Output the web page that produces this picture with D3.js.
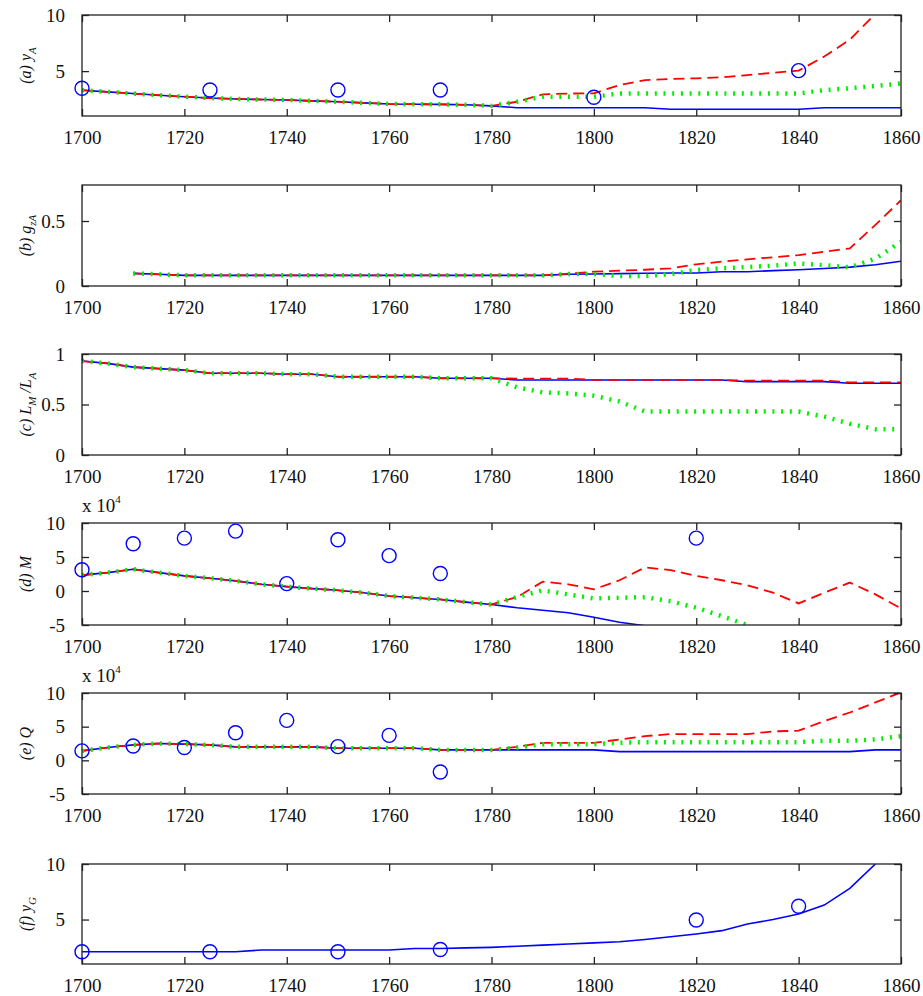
<!DOCTYPE html>
<html><head><meta charset="utf-8">
<script src="https://cdn.jsdelivr.net/npm/d3@7"></script>
<style>body{margin:0;background:#fff}</style>
</head><body><svg id="c" width="923" height="996"></svg>
<script>
// ---- data ----
const years = [1700,1705,1710,1715,1720,1725,1730,1735,1740,1745,1750,1755,1760,1765,1770,1775,1780,
  1785,1790,1795,1800,1805,1810,1815,1820,1825,1830,1835,1840,1845,1850,1855,1860];
const xTicks = [1700,1720,1740,1760,1780,1800,1820,1840,1860];

// (a) y_A
const aBase = [3.3,3.15,3.0,2.85,2.72,2.6,2.52,2.47,2.43,2.35,2.27,2.17,2.07,2.05,2.04,2.0,1.9];
const aBlue = aBase.concat([1.74,1.74,1.74,1.74,1.74,1.74,1.6,1.6,1.6,1.6,1.6,1.6,1.74,1.74,1.74,1.74]);
const aRed = aBase.concat([2.27,2.93,3.0,3.02,3.76,4.2,4.3,4.36,4.45,4.65,4.85,5.04,6.3,7.8,10.1,12.0]);
const aGreen = aBase.concat([2.27,2.72,2.72,2.72,3.0,3.0,3.0,3.0,3.0,3.0,3.0,3.0,3.3,3.47,3.67,3.9]);
const aObsYears = [1700,1725,1750,1770,1800,1840];
const aObs = [3.47,3.32,3.32,3.32,2.67,5.04];
const aTicks = [5,10];

// (b) g_zA
const bBase = [null,null,0.097,0.09,0.082,0.082,0.082,0.082,0.082,0.082,0.082,0.082,0.082,0.082,0.082,0.082,0.082];
const bBlue = bBase.concat([0.082,0.082,0.09,0.092,0.095,0.098,0.1,0.1,0.11,0.11,0.118,0.125,0.135,0.145,0.164,0.19]);
const bRed = bBase.concat([0.082,0.082,0.095,0.11,0.118,0.125,0.136,0.167,0.187,0.205,0.221,0.238,0.264,0.29,0.47,0.66]);
const bGreen = bBase.concat([0.082,0.082,0.092,0.092,0.077,0.077,0.092,0.123,0.136,0.146,0.156,0.174,0.16,0.144,0.21,0.34]);
const bTicks = [0,0.5];

// (c) L_M/L_A
const cBase = [0.93,0.907,0.87,0.855,0.84,0.81,0.81,0.81,0.80,0.80,0.775,0.775,0.775,0.775,0.76,0.76,0.76];
const cBlue = cBase.concat([0.743,0.743,0.743,0.743,0.743,0.743,0.743,0.743,0.743,0.726,0.726,0.726,0.726,0.71,0.71,0.71]);
const cRed = cBase.concat([0.756,0.756,0.756,0.743,0.743,0.743,0.743,0.743,0.743,0.736,0.736,0.736,0.736,0.72,0.72,0.72]);
const cGreen = cBase.concat([0.67,0.62,0.61,0.587,0.53,0.43,0.43,0.43,0.43,0.43,0.43,0.43,0.38,0.31,0.255,0.255]);
const cTicks = [0,0.5,1];

// (d) M  (x 10^4)
const dBase = [2.33,2.7,3.2,2.7,2.23,1.88,1.49,0.99,0.64,0.35,0.1,-0.25,-0.74,-0.99,-1.24,-1.63,-1.98];
const dBlue = dBase.concat([-2.47,-2.82,-3.2,-3.86,-4.6,-5.1,null,null,null,null,null,null,null,null,null,null]);
const dRed = dBase.concat([-0.89,1.38,0.99,0.25,1.58,3.47,3.07,2.23,1.58,0.84,-0.25,-1.83,-0.25,1.24,-0.5,-2.57]);
const dGreen = dBase.concat([-0.89,0.1,-0.5,-1.1,-1.0,-0.9,-1.5,-2.47,-3.7,-5.0,null,null,null,null,null,null]);
const dObsYears = [1700,1710,1720,1730,1740,1750,1760,1770,1820];
const dObs = [3.12,6.94,7.77,8.81,1.09,7.53,5.2,2.57,7.77];
const dTicks = [-5,0,5,10];

// (e) Q  (x 10^4)
const eBase = [1.4,1.9,2.3,2.5,2.4,2.3,2.0,2.0,2.0,2.0,1.8,1.8,1.8,1.8,1.55,1.55,1.55];
const eBlue = eBase.concat([1.55,1.55,1.55,1.55,1.3,1.3,1.3,1.3,1.3,1.3,1.3,1.3,1.3,1.3,1.55,1.55]);
const eRed = eBase.concat([2.0,2.6,2.6,2.6,3.1,3.6,3.9,3.9,3.9,3.9,4.3,4.4,5.83,7.1,8.6,10.1]);
const eGreen = eBase.concat([1.9,2.4,2.4,2.4,2.6,2.7,2.7,2.7,2.7,2.7,2.7,2.7,2.9,2.9,3.1,3.6]);
const eObsYears = [1700,1710,1720,1730,1740,1750,1760,1770];
const eObs = [1.4,2.13,1.9,4.1,5.94,2.03,3.7,-1.74];
const eTicks = [-5,0,5,10];

// (f) y_G
const fBlue = [2.1,2.1,2.1,2.1,2.1,2.1,2.1,2.26,2.26,2.26,2.26,2.26,2.26,2.4,2.4,2.45,2.5,
  2.6,2.7,2.8,2.9,3.0,3.2,3.45,3.7,4.0,4.6,5.0,5.5,6.3,7.8,10.0,null];
const fObsYears = [1700,1725,1750,1770,1820,1840];
const fObs = [2.1,2.1,2.1,2.3,4.96,6.2];
const fTicks = [5,10];

// ---- layout ----
const X0 = 82, X1 = 901;
const panels = [
  {id:"a", lab:[["(a) y",0],["A",1]], top:15, bot:116, dom:[1,10], ticks:aTicks, blue:aBlue, red:aRed, green:aGreen, oy:aObsYears, ov:aObs},
  {id:"b", lab:[["(b) g",0],["zA",1]], top:185, bot:286, dom:[0,0.777], ticks:bTicks, blue:bBlue, red:bRed, green:bGreen},
  {id:"c", lab:[["(c) L",0],["M",1],[" /L",0],["A",1]], top:354, bot:455, dom:[0,1], ticks:cTicks, blue:cBlue, red:cRed, green:cGreen},
  {id:"d", lab:[["(d) M",0]], top:523, bot:625, dom:[-5,10], ticks:dTicks, blue:dBlue, red:dRed, green:dGreen, oy:dObsYears, ov:dObs, exp:true},
  {id:"e", lab:[["(e) Q",0]], top:693, bot:794, dom:[-5,10], ticks:eTicks, blue:eBlue, red:eRed, green:eGreen, oy:eObsYears, ov:eObs, exp:true},
  {id:"f", lab:[["(f) y",0],["G",1]], top:864, bot:964, dom:[1,10], ticks:fTicks, blue:fBlue, oy:fObsYears, ov:fObs}
];

const svg = d3.select("#c");
const x = d3.scaleLinear().domain([1700,1860]).range([X0,X1]);
const FONT = "'Liberation Serif','Times New Roman',serif";
const defs = svg.append("defs");

panels.forEach(p => {
  const y = d3.scaleLinear().domain(p.dom).range([p.bot,p.top]);
  const g = svg.append("g");
  defs.append("clipPath").attr("id","clip"+p.id).append("rect")
    .attr("x",X0).attr("y",p.top).attr("width",X1-X0).attr("height",p.bot-p.top);
  const plot = g.append("g").attr("clip-path","url(#clip"+p.id+")");
  const line = d3.line().defined(d=>d[1]!=null).x(d=>x(d[0])).y(d=>y(d[1]));
  const zip = arr => years.map((yr,i)=>[yr,arr[i]]);
  if (p.blue) plot.append("path").attr("d",line(zip(p.blue))).attr("fill","none")
    .attr("stroke","#0000ff").attr("stroke-width",1.6);
  if (p.red) plot.append("path").attr("d",line(zip(p.red))).attr("fill","none")
    .attr("stroke","#ff0000").attr("stroke-width",1.8).attr("stroke-dasharray","11,6");
  if (p.green) plot.append("path").attr("d",line(zip(p.green))).attr("fill","none")
    .attr("stroke","#00ee00").attr("stroke-width",4.5).attr("stroke-dasharray","2,6.7");

  // frame
  g.append("rect").attr("x",X0).attr("y",p.top).attr("width",X1-X0).attr("height",p.bot-p.top)
    .attr("fill","none").attr("stroke","#222").attr("stroke-width",1.3);

  // axes with inward ticks
  const axB = d3.axisBottom(x).tickValues(xTicks).tickFormat(d3.format("d")).tickSizeInner(-7).tickSizeOuter(0).tickPadding(15);
  const axT = d3.axisTop(x).tickValues(xTicks).tickFormat("").tickSizeInner(-7).tickSizeOuter(0);
  const axL = d3.axisLeft(y).tickValues(p.ticks).tickFormat(d=>String(d)).tickSizeInner(-7).tickSizeOuter(0).tickPadding(17);
  const axR = d3.axisRight(y).tickValues(p.ticks).tickFormat("").tickSizeInner(-7).tickSizeOuter(0);
  [[axB,`translate(0,${p.bot})`],[axT,`translate(0,${p.top})`],[axL,`translate(${X0},0)`],[axR,`translate(${X1},0)`]]
    .forEach(([ax,tr]) => {
      const a = g.append("g").attr("transform",tr).call(ax);
      a.select(".domain").remove();
      a.selectAll("line").attr("stroke","#222").attr("stroke-width",1.3);
      a.selectAll("text").attr("font-family",FONT).attr("font-size",19).attr("fill","#111");
    });

  // observed points
  if (p.oy) g.selectAll("circle.obs").data(p.oy.map((yr,i)=>[yr,p.ov[i]])).enter().append("circle")
    .attr("cx",d=>x(d[0])).attr("cy",d=>y(d[1])).attr("r",7)
    .attr("fill","none").attr("stroke","#0000ff").attr("stroke-width",1.4);

  // exponent label
  if (p.exp) {
    const t = g.append("text").attr("x",X0).attr("y",p.top-11).attr("font-family",FONT).attr("font-size",19).attr("fill","#111");
    t.append("tspan").text("x 10");
    t.append("tspan").attr("dy",-9).attr("font-size",11).text("4");
  }

  // y label
  const lt = g.append("text").attr("transform",`translate(31,${(p.top+p.bot)/2}) rotate(-90)`)
    .attr("text-anchor","middle").attr("font-family",FONT).attr("font-style","italic")
    .attr("font-size",16).attr("fill","#111");
  let cur = 0;
  p.lab.forEach(([s,sub]) => {
    const dy = (sub?5:0) - cur; cur = sub?5:0;
    lt.append("tspan").attr("dy",dy).attr("font-size",sub?11:16).text(s);
  });
});
</script>
</body></html>
